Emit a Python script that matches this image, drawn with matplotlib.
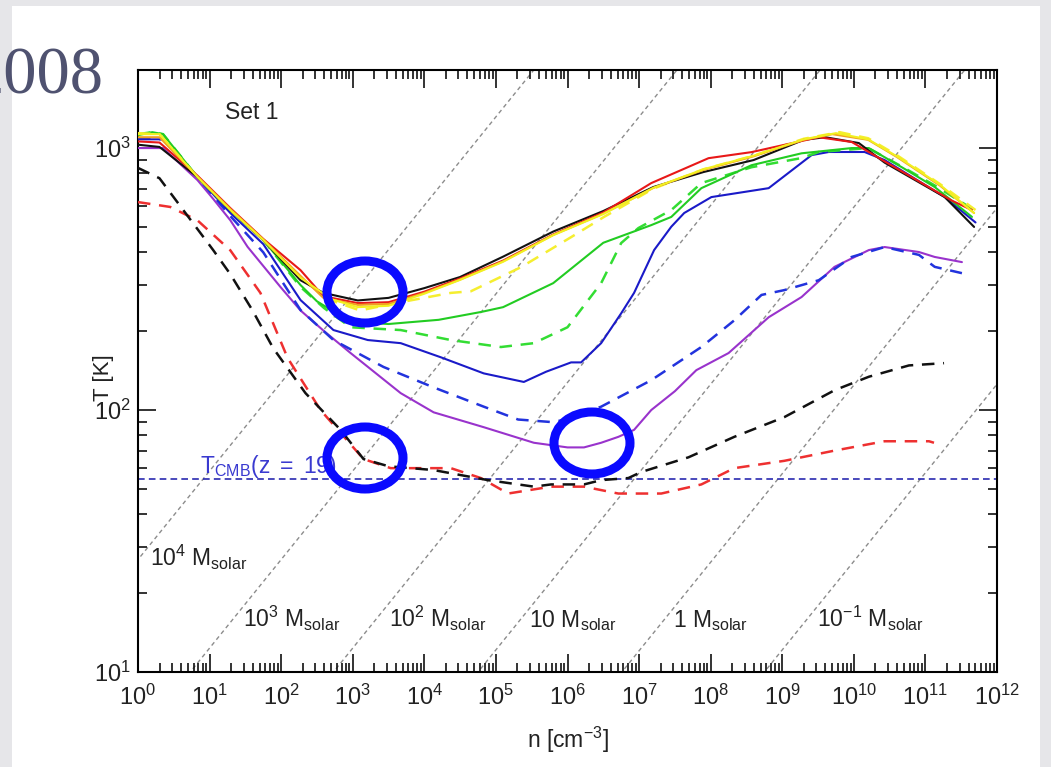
import matplotlib
matplotlib.use("Agg")
import numpy as np
import matplotlib.pyplot as plt
from matplotlib.patches import Ellipse, Rectangle

plt.rcParams['font.family'] = ['Liberation Sans', 'DejaVu Sans']
plt.rcParams['mathtext.fontset'] = 'custom'
plt.rcParams['mathtext.rm'] = 'Liberation Sans'
plt.rcParams['mathtext.it'] = 'Liberation Sans:italic'
plt.rcParams['mathtext.bf'] = 'Liberation Sans:bold'

# ---------------- data (log10 n [cm^-3], T [K]) ----------------
black_logn = [0, 0.3, 0.83, 1.29, 1.75, 2.27, 2.59, 3.07, 3.5, 4.0, 4.5, 5.1, 5.8, 6.5, 7.2, 7.9, 8.6, 9.3, 9.6, 10.07, 10.43, 11.27, 11.68]
black_T = [1030, 1010, 775, 580, 446, 313, 280, 262, 268, 292, 322, 385, 480, 575, 710, 810, 900, 1075, 1100, 1045, 880, 650, 500]

red_logn = [0, 0.3, 0.83, 1.29, 1.75, 2.27, 2.59, 3.07, 3.5, 4.0, 4.5, 5.1, 5.8, 6.5, 7.17, 7.97, 8.57, 9.51, 9.97, 10.43, 11.37, 11.65]
red_T = [1060, 1050, 785, 590, 450, 342, 272, 256, 258, 283, 318, 372, 468, 568, 735, 915, 965, 1100, 1055, 890, 630, 580]

orange_logn = [0, 0.3, 0.83, 1.29, 1.75, 2.27, 2.59, 3.07, 3.5, 4.0, 4.5, 5.1, 5.8, 6.5, 7.2, 7.9, 8.6, 9.3, 9.7, 10.2, 10.6, 11.2, 11.68]
orange_T = [1100, 1100, 780, 585, 448, 325, 268, 252, 254, 280, 315, 370, 466, 562, 705, 825, 930, 1075, 1130, 1075, 925, 720, 565]

yellow_logn = [0, 0.3, 0.83, 1.29, 1.75, 2.27, 2.7, 3.07, 3.5, 4.0, 4.5, 5.1, 5.8, 6.5, 7.2, 7.9, 8.6, 9.3, 9.75, 10.2, 10.6, 11.2, 11.68]
yellow_T = [1130, 1130, 775, 580, 446, 320, 265, 247, 250, 278, 314, 368, 465, 560, 705, 830, 935, 1080, 1140, 1080, 930, 725, 565]

yellowd_logn = [0, 0.3, 0.83, 1.29, 1.75, 2.27, 2.7, 3.1, 3.67, 4.37, 4.65, 5.35, 6.05, 6.51, 7.2, 7.9, 8.6, 9.3, 9.8, 10.2, 10.6, 11.2, 11.7]
yellowd_T = [1140, 1130, 775, 580, 446, 318, 262, 240, 258, 280, 284, 351, 457, 546, 700, 830, 935, 1085, 1150, 1090, 940, 730, 580]

green_logn = [0, 0.2, 0.35, 0.83, 1.29, 1.75, 2.27, 2.5, 2.97, 3.5, 4.2, 4.8, 5.1, 5.8, 6.5, 7.17, 7.45, 7.87, 8.57, 9.27, 9.97, 10.21, 10.67, 11.13, 11.65]
green_T = [1120, 1150, 1130, 775, 580, 446, 300, 260, 217, 213, 221, 237, 247, 305, 435, 508, 546, 703, 860, 955, 1000, 1000, 845, 710, 546]

greend_logn = [0, 0.2, 0.35, 0.83, 1.29, 1.75, 2.27, 2.6, 2.97, 3.67, 4.37, 5.07, 5.53, 6.0, 6.29, 6.47, 6.75, 6.99, 7.45, 7.87, 8.57, 9.27, 9.51, 10.2, 10.67, 11.13, 11.68]
greend_T = [1130, 1150, 1130, 775, 580, 446, 295, 245, 207, 202, 185, 174, 180, 207, 263, 305, 434, 495, 580, 735, 845, 916, 966, 1000, 850, 720, 580]

blue_logn = [0, 0.35, 0.83, 1.29, 1.75, 2.27, 2.73, 3.21, 3.67, 4.23, 4.83, 5.39, 5.7, 6.05, 6.19, 6.47, 6.75, 6.93, 7.21, 7.45, 7.63, 8.01, 8.81, 9.41, 9.65, 10.15, 10.43, 11.27, 11.7]
blue_T = [1080, 1080, 775, 565, 430, 263, 202, 185, 180, 159, 138, 128, 140, 152, 152, 180, 234, 280, 408, 501, 565, 650, 703, 940, 966, 966, 900, 650, 520]

blued_logn = [0, 0.35, 0.83, 1.29, 1.75, 2.27, 2.73, 3.43, 4.13, 4.83, 5.31, 5.77, 6.0, 6.47, 7.17, 7.87, 8.33, 8.71, 9.03, 9.51, 9.97, 10.43, 10.91, 11.13, 11.51]
blued_T = [1090, 1080, 775, 550, 400, 241, 185, 146, 122, 103, 92, 90, 92, 103, 130, 174, 220, 275, 287, 313, 384, 419, 391, 352, 333]

purple_logn = [0, 0.35, 0.83, 1.05, 1.29, 1.53, 1.99, 2.27, 2.6, 2.97, 3.67, 4.13, 4.83, 5.53, 6.0, 6.23, 6.47, 6.71, 6.93, 7.17, 7.5, 7.8, 8.25, 8.81, 9.27, 9.73, 10.21, 10.43, 10.91, 11.13, 11.51]
purple_T = [1000, 1000, 755, 640, 530, 420, 295, 240, 200, 165, 116, 98, 86, 75, 72, 72, 75, 79, 84, 100, 118, 142, 165, 226, 270, 352, 408, 419, 401, 384, 367]

blackd_logn = [0, 0.3, 1.05, 1.29, 1.6, 1.89, 2.34, 2.83, 3.15, 3.5, 4.13, 4.89, 5.53, 5.77, 6.23, 6.47, 6.85, 7.03, 7.69, 8.33, 9.03, 9.73, 10.21, 10.77, 11.26]
blackd_T = [840, 767, 408, 330, 240, 172, 116, 84, 65, 61, 59, 54, 51, 52, 52, 54, 55, 58, 66, 79, 94, 119, 134, 148, 151]

redd_logn = [0, 0.45, 0.83, 1.29, 1.71, 2.09, 2.55, 3.15, 3.53, 4.37, 4.79, 5.17, 5.77, 6.23, 6.71, 7.31, 7.87, 8.33, 9.03, 9.73, 10.43, 11.05, 11.12]
redd_T = [622, 596, 530, 407, 280, 158, 100, 65, 60, 60, 55, 48, 51, 51, 48, 48, 52, 60, 64, 70, 76, 76, 75]

# Jeans-mass reference lines: log10 n where T = 10 K, and labels
jeans_logn_10K = [-1.27, 0.73, 2.73, 4.75, 6.76, 8.75]
jeans_slope = 0.338
mass_labels = [r'$\mathregular{10^4\ M_{solar}}$', r'$\mathregular{10^3\ M_{solar}}$',
               r'$\mathregular{10^2\ M_{solar}}$', r'$\mathregular{10\ M_{solar}}$',
               r'$\mathregular{1\ M_{solar}}$', r'$\mathregular{10^{-1}\ M_{solar}}$']
mass_label_logn = [0.17, 1.47, 3.50, 5.46, 7.48, 9.48]
mass_label_T = [25.4, 14.9, 14.9, 14.9, 14.9, 14.9]

T_cmb = 54.5
x_ticks_exp = list(range(0, 13))
y_ticks_exp = [1, 2, 3]

# ---------------- figure ----------------
W, H = 1051, 767
fig = plt.figure(figsize=(W / 100, H / 100), dpi=100)
fig.patch.set_facecolor('#e6e6e9')
fig.add_artist(Rectangle((12 / W, 0), (1040 - 12) / W, 1 - 6 / H,
                         transform=fig.transFigure, facecolor='white', edgecolor='none', zorder=0))

fig.text(103 / W, 1 - 93 / H, '2008', family=['Liberation Serif', 'DejaVu Serif'],
         fontsize=48, color='#4f5270', ha='right', va='baseline')

ax = fig.add_axes([138 / W, 1 - 672 / H, (997 - 138) / W, (672 - 70) / H])
ax.set_xscale('log')
ax.set_yscale('log')
ax.set_xlim(1, 1e12)
ax.set_ylim(10, 10 ** 3.298)

# Jeans lines
xs = np.array([-3.0, 13.0])
for l10 in jeans_logn_10K:
    ys = 1 + jeans_slope * (xs - l10)
    ax.plot(10 ** xs, 10 ** ys, color='#8c8c8c', lw=1.0, dashes=(3, 2.4), zorder=1)

for lab, lx, ty in zip(mass_labels, mass_label_logn, mass_label_T):
    ax.text(10 ** lx, ty, lab, fontsize=16.5, color='#222222', ha='left', va='baseline')

ax.axhline(T_cmb, color='#2a2ab0', lw=1.2, dashes=(4, 2.5), zorder=2)
ax.text(10 ** 0.87, 57.5, r'$\mathregular{T_{CMB}(z\ =\ 19)}$', fontsize=16.5,
        color='#3a3ad0', ha='left', va='baseline')

lw = 1.5
def curve(logn, T, color, ls='-', z=3):
    if ls == '-':
        ax.plot(10 ** np.array(logn), T, color=color, lw=lw, zorder=z, solid_capstyle='round')
    else:
        ax.plot(10 ** np.array(logn), T, color=color, lw=1.8, dashes=(5, 3.5), zorder=z)

curve(redd_logn, redd_T, '#ee3030', '--')
curve(blackd_logn, blackd_T, '#111111', '--')
curve(purple_logn, purple_T, '#9933cc')
curve(blued_logn, blued_T, '#2233dd', '--')
curve(blue_logn, blue_T, '#1a1ac8')
curve(greend_logn, greend_T, '#33dd33', '--')
curve(green_logn, green_T, '#22cc22')
curve(yellowd_logn, yellowd_T, '#f5ee30', '--')
curve(black_logn, black_T, '#111111')
curve(red_logn, red_T, '#e81818')
curve(orange_logn, orange_T, '#f0a020')
curve(yellow_logn, yellow_T, '#f2f020')

ax.text(10 ** 1.22, 10 ** 3.134, 'Set 1', fontsize=16.5, color='#222222', ha='left', va='center')

# axes styling
for s in ax.spines.values():
    s.set_linewidth(1.5)
ax.tick_params(which='both', direction='in', top=True, right=True, width=1.2, colors='#111111')
ax.tick_params(which='major', length=13)
ax.tick_params(which='minor', length=6.5)
ax.tick_params(axis='x', which='major', pad=9, labelsize=17, labelcolor='#222222')
ax.tick_params(axis='y', which='major', pad=5, labelsize=17, labelcolor='#222222')
ax.set_xticks([10.0 ** e for e in x_ticks_exp])
ax.set_xticklabels([r'$\mathregular{10^{%d}}$' % e for e in x_ticks_exp])
ax.set_yticks([10.0 ** e for e in y_ticks_exp])
ax.set_yticklabels([r'$\mathregular{10^{%d}}$' % e for e in y_ticks_exp])
ax.xaxis.set_minor_locator(matplotlib.ticker.LogLocator(base=10, subs=np.arange(2, 10), numticks=100))
ax.yaxis.set_minor_locator(matplotlib.ticker.LogLocator(base=10, subs=np.arange(2, 10), numticks=100))
ax.xaxis.set_minor_formatter(matplotlib.ticker.NullFormatter())
ax.yaxis.set_minor_formatter(matplotlib.ticker.NullFormatter())

fig.text(568 / W, 1 - 740 / H, r'$\mathregular{n\ [cm^{-3}]}$', fontsize=16.5, color='#222222',
         ha='center', va='center')
fig.text(104 / W, 1 - 378 / H, 'T [K]', fontsize=16, color='#222222', rotation=90,
         ha='center', va='center')

# blue highlight ellipses (pixel centres)
for cx, cy in [(365, 292), (365, 458), (592, 443)]:
    fig.add_artist(Ellipse((cx / W, 1 - cy / H), 76 / W, 62 / H, transform=fig.transFigure,
                           fill=False, edgecolor='#0a0aff', lw=6.5, zorder=10))

fig.savefig('out.png', dpi=100, facecolor=fig.get_facecolor())
